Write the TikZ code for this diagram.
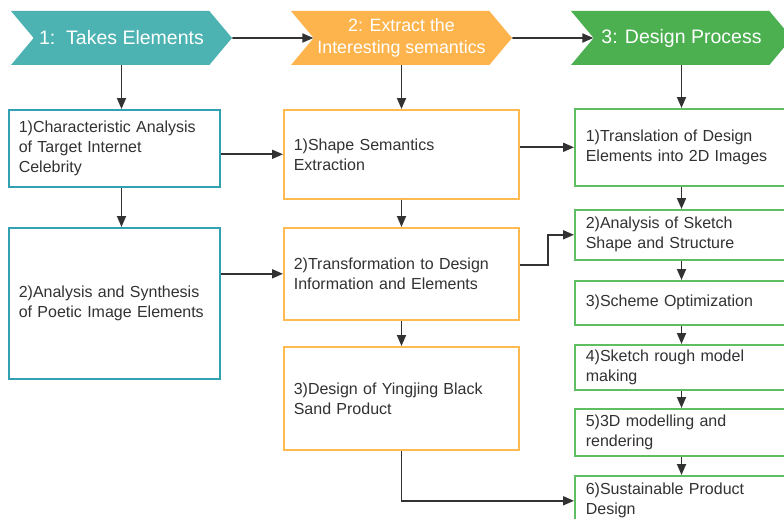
\documentclass[tikz,border=0pt]{standalone}
\usepackage{fontspec}
\setmainfont{Liberation Sans}
\usetikzlibrary{shapes.symbols,arrows.meta}

\definecolor{tealhead}{RGB}{76,179,178}
\definecolor{tealline}{RGB}{50,162,178}
\definecolor{orangehead}{RGB}{253,180,77}
\definecolor{orangeline}{RGB}{255,186,82}
\definecolor{greenhead}{RGB}{76,176,80}
\definecolor{greenline}{RGB}{96,190,98}
\definecolor{inkgray}{RGB}{50,50,50}

\begin{document}
\begin{tikzpicture}[x=1pt,y=-1pt,
  head/.style={signal,signal from=west,signal to=east,signal pointer angle=100,
    minimum width=221pt,minimum height=54pt,inner sep=0pt,text=white,align=center},
  box/.style={rectangle,line width=1.6pt,fill=white,anchor=north west,
    inner xsep=10pt,inner ysep=2pt,align=left,text=inkgray,
    font=\fontsize{16}{20}\selectfont},
  lbox/.style={box,draw=tealline,minimum width=211pt,text width=191pt},
  mbox/.style={box,draw=orangeline,minimum width=235pt,text width=215pt},
  rbox/.style={box,draw=greenline,minimum width=230pt,text width=208pt},
  conn/.style={draw=inkgray,line width=1.8pt,-{Triangle[length=11pt,width=9pt]}}]
\useasboundingbox (0,0) rectangle (784,519);
\clip (0,0) rectangle (784,519);

% stage headers
\node[head,fill=tealhead,font=\fontsize{19.5}{22}\selectfont] (h1) at (121.5,38) {1:\ \ Takes Elements};
\node[head,fill=orangehead,font=\fontsize{17.8}{22}\selectfont] (h2) at (401.5,38) {2: Extract the\\Interesting semantics};
\node[head,fill=greenhead,font=\fontsize{19.5}{22}\selectfont] (h3) at (681.5,38) {3: Design Process};

% column 1
\node[lbox,minimum height=77pt] (l1) at (8,109) {1)Characteristic Analysis\\of Target Internet\\Celebrity};
\node[lbox,minimum height=151pt] (l2) at (8,227) {2)Analysis and Synthesis\\of Poetic Image Elements};

% column 2
\node[mbox,minimum height=89pt] (m1) at (283,109) {1)Shape Semantics\\Extraction};
\node[mbox,minimum height=92pt] (m2) at (283,227) {2)Transformation to Design\\Information and Elements};
\node[mbox,minimum height=103pt] (m3) at (283,346) {3)Design of Yingjing Black\\Sand Product};

% column 3
\node[rbox,minimum height=77pt] (r1) at (574,108) {1)Translation of Design\\Elements into 2D Images};
\node[rbox,minimum height=50pt] (r2) at (574,209) {2)Analysis of Sketch\\Shape and Structure};
\node[rbox,minimum height=44pt] (r3) at (574,280) {3)Scheme Optimization};
\node[rbox,minimum height=45pt] (r4) at (574,344) {4)Sketch rough model\\making};
\node[rbox,minimum height=47pt] (r5) at (574,408) {5)3D modelling and\\rendering};
\node[rbox,minimum height=50pt] (r6) at (574,475) {6)Sustainable Product\\Design};

% header chain
\draw[conn] (h1) -- (h2);
\draw[conn] (h2) -- (h3);
\draw[conn] (h1.south) -- (h1.south |- l1.north);
\draw[conn] (h2.south) -- (h2.south |- m1.north);
\draw[conn] (h3.south) -- (h3.south |- r1.north);

% down the columns
\draw[conn] (l1.south -| h1.south) -- (l2.north -| h1.south);
\draw[conn] (m1.south -| h2.south) -- (m2.north -| h2.south);
\draw[conn] (m2.south -| h2.south) -- (m3.north -| h2.south);
\draw[conn] (r1.south -| h3.south) -- (r2.north -| h3.south);
\draw[conn] (r2.south -| h3.south) -- (r3.north -| h3.south);
\draw[conn] (r3.south -| h3.south) -- (r4.north -| h3.south);
\draw[conn] (r4.south -| h3.south) -- (r5.north -| h3.south);
\draw[conn] (r5.south -| h3.south) -- (r6.north -| h3.south);

% across the columns
\draw[conn] (l1.east |- m1.west) -- (m1.west);
\draw[conn] (l2.east |- m2.west) -- (m2.west);
\draw[conn] (m1.east |- r1.west) -- (r1.west);
\draw[conn] ([yshift=9pt]m2.east) -- ++(28,0) |- (r2.west);
\draw[conn] (m3.south -| h2.south) |- (r6.west);
\end{tikzpicture}
\end{document}
